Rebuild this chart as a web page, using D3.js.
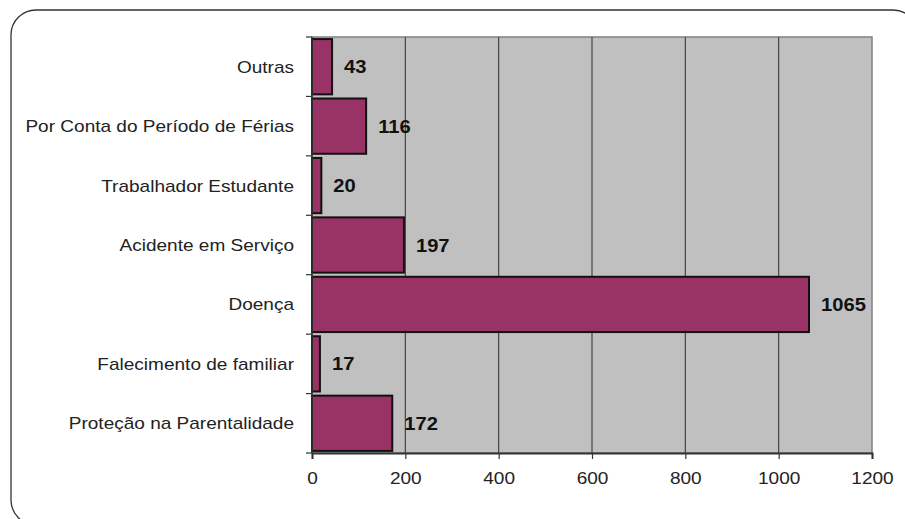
<!DOCTYPE html>
<html>
<head>
<meta charset="utf-8">
<script src="https://cdn.jsdelivr.net/npm/d3@7"></script>
<style>
  body { margin: 0; background: #fff; }
  text { font-family: "Liberation Sans", Arial, sans-serif; }
</style>
</head>
<body>
<div class="container"></div>
<script>
const categories = ["Outras", "Por Conta do Período de Férias", "Trabalhador Estudante", "Acidente em Serviço", "Doença", "Falecimento de familiar", "Proteção na Parentalidade"]
const values = [43, 116, 20, 197, 1065, 17, 172]
const xTicks = [0, 200, 400, 600, 800, 1000, 1200]

const width = 905
const height = 519
const stretch = 1.12

const svg = d3.select(".container")
              .append("svg")
              .attr("width", width)
              .attr("height", height)

// rounded frame, runs off the right/bottom edge
svg.append("rect")
   .attr("x", 11)
   .attr("y", 10)
   .attr("width", 907)
   .attr("height", 515)
   .attr("rx", 25)
   .attr("fill", "none")
   .attr("stroke", "#333")
   .attr("stroke-width", 1.3)

const xScale = d3.scaleLinear()
                 .domain([0, 1200])
                 .range([312, 872])

const yScale = d3.scaleBand()
                 .domain(categories)
                 .range([37, 453])
                 .paddingInner(0.07)
                 .paddingOuter(0.035)

// plot area
svg.append("rect")
   .attr("x", xScale(0))
   .attr("y", 37)
   .attr("width", xScale(1200) - xScale(0))
   .attr("height", 453 - 37)
   .attr("fill", "#c0c0c0")
   .attr("stroke", "#808080")
   .attr("stroke-width", 1.5)

// grid
svg.selectAll(".grid")
   .data(xTicks.slice(1, -1))
   .enter()
   .append("line")
   .attr("class", "grid")
   .attr("x1", (d)=>xScale(d))
   .attr("x2", (d)=>xScale(d))
   .attr("y1", 37)
   .attr("y2", 453)
   .attr("stroke", "#444")
   .attr("stroke-width", 1.2)

// bars
svg.selectAll(".bar")
   .data(categories)
   .enter()
   .append("rect")
   .attr("class", "bar")
   .attr("x", xScale(0))
   .attr("y", (c)=>yScale(c))
   .attr("width", (c, i)=>xScale(values[i]) - xScale(0))
   .attr("height", yScale.bandwidth())
   .attr("fill", "#993366")
   .attr("stroke", "#111")
   .attr("stroke-width", 2)

// value labels
svg.selectAll(".val")
   .data(categories)
   .enter()
   .append("text")
   .attr("class", "val")
   .attr("transform", (c, i)=>'translate('+(xScale(values[i]) + 12)+', '+(yScale(c) + yScale.bandwidth()/2 + 6.5)+') scale('+stretch+',1)')
   .text((c, i)=>values[i])
   .style("font-size", "18px")
   .style("font-weight", "bold")
   .attr("fill", "#111")

// x axis
const xAxis = d3.axisBottom(xScale)
                .tickValues(xTicks)
                .tickSize(6)
                .tickFormat((d)=>d)

const gx = svg.append("g")
              .attr("transform", "translate(0, 453)")
              .call(xAxis)
gx.select(".domain").attr("stroke", "#333").attr("stroke-width", 2)
gx.selectAll(".tick line").attr("stroke", "#333").attr("stroke-width", 1.2)
gx.selectAll(".tick text")
  .attr("y", 0)
  .attr("dy", 0)
  .attr("transform", "translate(0, 31) scale("+stretch+",1)")
  .style("font-size", "17px")
  .style("font-family", "'Liberation Sans', Arial, sans-serif")
  .attr("fill", "#222")

// y axis: ticks at category boundaries
const bounds = categories.map((c)=>yScale(c) - yScale.step()*yScale.paddingInner()/2)
bounds.push(453)
svg.append("line")
   .attr("x1", xScale(0))
   .attr("x2", xScale(0))
   .attr("y1", 37)
   .attr("y2", 453)
   .attr("stroke", "#333")
   .attr("stroke-width", 1.5)
svg.selectAll(".ytick")
   .data(bounds)
   .enter()
   .append("line")
   .attr("class", "ytick")
   .attr("x1", xScale(0) - 6)
   .attr("x2", xScale(0))
   .attr("y1", (d)=>d)
   .attr("y2", (d)=>d)
   .attr("stroke", "#333")
   .attr("stroke-width", 1.2)

svg.selectAll(".cat")
   .data(categories)
   .enter()
   .append("text")
   .attr("class", "cat")
   .attr("transform", (c)=>'translate(294, '+(yScale(c) + yScale.bandwidth()/2 + 6)+') scale('+stretch+',1)')
   .attr("text-anchor", "end")
   .text((c)=>c)
   .style("font-size", "17px")
   .attr("fill", "#222")
</script>
</body>
</html>
